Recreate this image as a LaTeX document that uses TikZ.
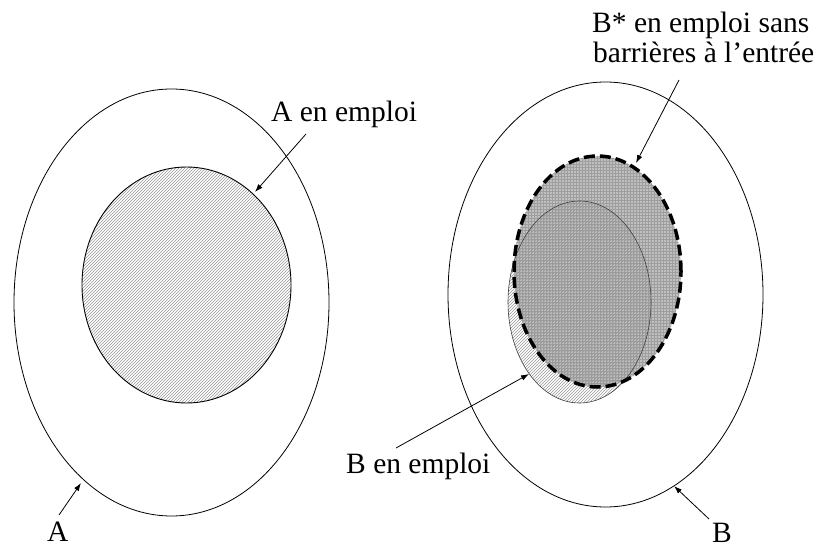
\documentclass[tikz,border=0pt]{standalone}
\usepackage{fontspec}
\setmainfont{Liberation Serif}
\usetikzlibrary{patterns,arrows.meta}
\begin{document}
\begin{tikzpicture}[x=1pt,y=-1pt,
  lbl/.style={font=\fontsize{29.5}{30}\selectfont, inner sep=0pt, anchor=base west},
  pointer/.style={line width=0.8pt, -{Latex[length=8pt,width=5.5pt]}},
  outer/.style={draw=black, line width=0.8pt},
  hatch/.style={pattern=north east lines, pattern color=black!40},
]
\useasboundingbox (0,0) rectangle (819,548);
\fill[white] (0,0) rectangle (819,548);

% outer populations
\draw[outer] (171.5,302.5) ellipse [x radius=157.5pt, y radius=213.5pt];
\draw[outer] (605.5,294.5) ellipse [x radius=157.5pt, y radius=212.5pt];

% A en emploi
\draw[line width=0.9pt, hatch] (186.5,285) ellipse [x radius=104.5pt, y radius=118pt];

% B* region
\fill[gray!50] (597.5,271.5) ellipse [x radius=83.5pt, y radius=115.5pt];
\fill[pattern=grid, pattern color=black!38] (597.5,271.5) ellipse [x radius=83.5pt, y radius=115.5pt];

% B en emploi
\draw[line width=0.6pt, draw=black!75, hatch] (579.5,302) ellipse [x radius=71.5pt, y radius=101pt];

% B* dashed outline
\draw[line width=3.5pt, dash pattern=on 11pt off 5pt] (597.5,271.5) ellipse [x radius=83.5pt, y radius=115.5pt];

% labels
\node[lbl] (aemp) at (271,122) {A en emploi};
\node[lbl] (alab) at (47,541) {A};
\node[lbl] (bemp) at (346,473) {B en emploi};
\node[lbl] (blab) at (712,542) {B};
\node[lbl] (bstarA) at (592,33) {B* en emploi sans};
\node[lbl] (bstarB) at (593,63) {barrières à l’entrée};

% arrows
\coordinate (aempS) at (306,134);  \coordinate (aempE) at (255,192);
\coordinate (alabS) at (59,515);   \coordinate (alabE) at (81,483);
\coordinate (bempS) at (396,448);  \coordinate (bempE) at (529,374);
\coordinate (blabS) at (709,519);  \coordinate (blabE) at (674,486);
\coordinate (bstarS) at (679,80);  \coordinate (bstarE) at (636,163);
\draw[pointer] (aempS) -- (aempE);
\draw[pointer] (alabS) -- (alabE);
\draw[pointer] (bempS) -- (bempE);
\draw[pointer] (blabS) -- (blabE);
\draw[pointer] (bstarS) -- (bstarE);
\end{tikzpicture}
\end{document}
